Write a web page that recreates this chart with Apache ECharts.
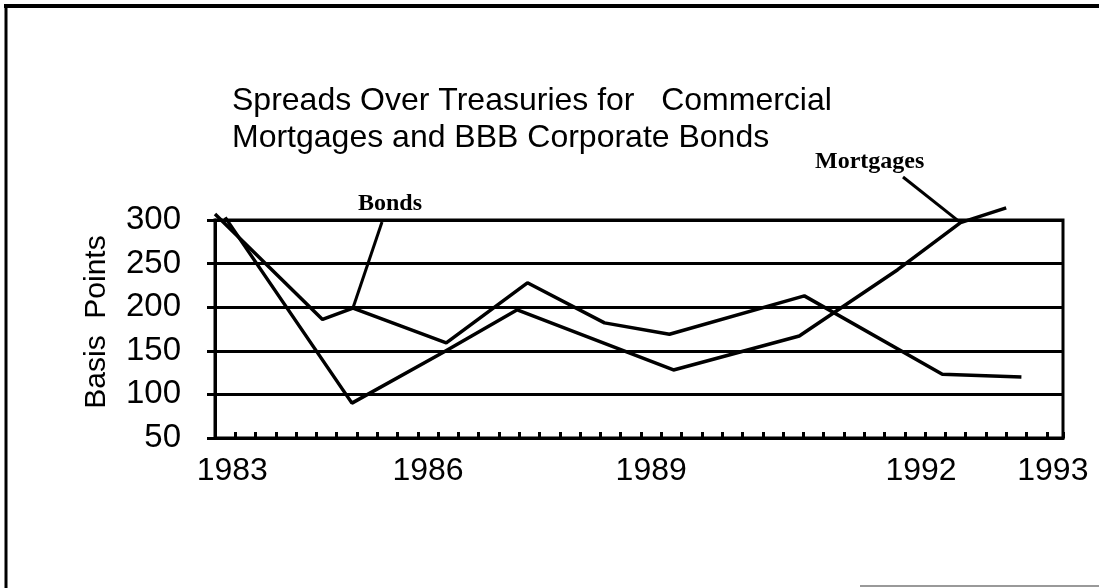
<!DOCTYPE html>
<html>
<head>
<meta charset="utf-8">
<title>Spreads Over Treasuries</title>
<script src="https://cdn.jsdelivr.net/npm/echarts@6/dist/echarts.min.js"></script>
<style>
  html, body { margin: 0; padding: 0; background: #fff; }
  #main { width: 1099px; height: 588px; }
</style>
</head>
<body>
<div id="main"></div>
<script>
// x is measured in axis tick steps (quarters) from the y axis
const yearLabels = ['1983', '1986', '1989', '1992', '1993'];
const yearLabelPos = [0.85, 10.5, 21.5, 34.8, 41.3];

const bondsX = [0, 5.3, 6.8, 11.4, 15.4, 19.2, 22.4, 29.05, 35.85, 39.75];
const bondsY = [307, 186, 199, 159, 228, 182, 169, 213, 123, 120];

const mortgagesX = [0.5, 6.75, 11.3, 14.9, 22.6, 28.8, 33.65, 36.75, 39.0];
const mortgagesY = [303, 90, 149, 197, 128, 167, 243, 297, 314];

const pairs = (xs, ys) => xs.map((x, i) => [x, ys[i]]);
const bonds = pairs(bondsX, bondsY);
const mortgages = pairs(mortgagesX, mortgagesY);

const sans = '"Liberation Sans", Arial, Helvetica, sans-serif';
const serif = '"Liberation Serif", "Times New Roman", serif';

let chart = echarts.init(document.getElementById('main'));
chart.setOption({
  animation: false,
  backgroundColor: '#fff',
  grid: {
    left: 215,
    right: 36,
    top: 220,
    bottom: 150,
    show: true,
    borderColor: '#000',
    borderWidth: 3
  },
  xAxis: {
    type: 'value',
    min: 0,
    max: 41.8,
    interval: 1,
    axisLine: { lineStyle: { color: '#000', width: 3 } },
    axisTick: { inside: true, length: 6, lineStyle: { color: '#000', width: 3 } },
    splitLine: { show: false },
    axisLabel: {
      customValues: yearLabelPos,
      formatter: v => yearLabels[yearLabelPos.indexOf(v)] || '',
      color: '#000',
      fontFamily: sans,
      fontSize: 32,
      margin: 17
    }
  },
  yAxis: {
    type: 'value',
    min: 50,
    max: 300,
    interval: 50,
    name: 'Basis  Points',
    nameLocation: 'middle',
    nameRotate: 90,
    nameGap: 103,
    nameTextStyle: { color: '#000', fontFamily: sans, fontSize: 30, padding: [0, 0, 0, 14] },
    axisLine: { show: true, lineStyle: { color: '#000', width: 3 } },
    axisTick: { show: true, length: 8, lineStyle: { color: '#000', width: 3 } },
    splitLine: { lineStyle: { color: '#000', width: 3 } },
    axisLabel: { color: '#000', fontFamily: sans, fontSize: 33, margin: 34 }
  },
  series: [{
    name: 'Bonds',
    type: 'line',
    data: bonds,
    showSymbol: false,
    clip: false,
    lineStyle: { color: '#000', width: 3.5 },
    markLine: {
      silent: true,
      symbol: ['none', 'none'],
      label: { show: false },
      lineStyle: { color: '#000', width: 3, type: 'solid' },
      data: [[{ x: 382, y: 222 }, { coord: bonds[2] }]]
    }
  }, {
    name: 'Mortgages',
    type: 'line',
    data: mortgages,
    showSymbol: false,
    clip: false,
    lineStyle: { color: '#000', width: 3.5 },
    markLine: {
      silent: true,
      symbol: ['none', 'none'],
      label: { show: false },
      lineStyle: { color: '#000', width: 3, type: 'solid' },
      data: [[{ x: 903, y: 177 }, { coord: mortgages[7] }]]
    }
  }],
  graphic: [
    // scanned page frame
    { type: 'line', shape: { x1: 4, y1: 6, x2: 1099, y2: 6 }, style: { stroke: '#000', lineWidth: 4 } },
    { type: 'line', shape: { x1: 6, y1: 4, x2: 6, y2: 588 }, style: { stroke: '#000', lineWidth: 3 } },
    { type: 'line', shape: { x1: 860, y1: 586, x2: 1099, y2: 586 }, style: { stroke: '#999', lineWidth: 2 } },
    {
      type: 'text', left: 232, top: 83,
      style: {
        text: 'Spreads Over Treasuries for   Commercial\nMortgages and BBB Corporate Bonds',
        fill: '#000', font: '32px ' + sans, lineHeight: 37
      }
    },
    { type: 'text', left: 358, top: 192, style: { text: 'Bonds', fill: '#000', font: 'bold 24px ' + serif } },
    { type: 'text', left: 815, top: 150, style: { text: 'Mortgages', fill: '#000', font: 'bold 24px ' + serif } }
  ]
});
</script>
</body>
</html>
